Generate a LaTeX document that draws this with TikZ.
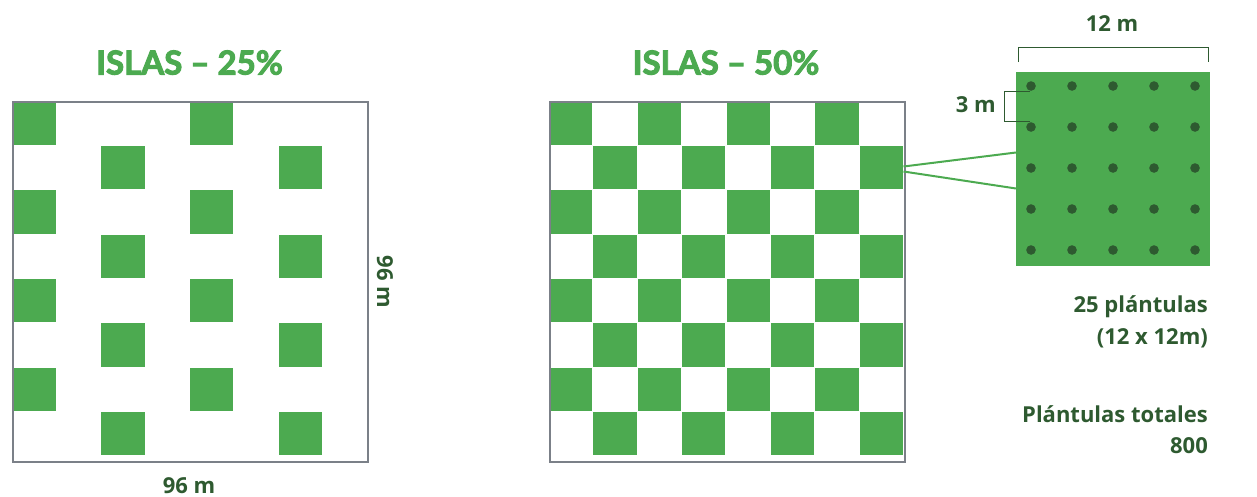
\documentclass[tikz,border=0pt]{standalone}
\usepackage{fontspec}
\setmainfont{Open Sans}
\newfontfamily\titlefont{Lato}[BoldFeatures={FakeBold=3}]
\definecolor{isla}{HTML}{4CAA50}
\definecolor{dkgreen}{HTML}{2E5A30}
\definecolor{border}{HTML}{7B8088}
\begin{document}
\begin{tikzpicture}[x=1pt,y=-1pt,
  gridframe/.style={draw=border,line width=2pt},
  titletext/.style={text=isla,font=\titlefont\bfseries\fontsize{33}{33}\selectfont,inner sep=0pt},
  labeltext/.style={text=dkgreen,font=\bfseries\fontsize{22}{26}\selectfont,inner sep=0pt},
  bracket/.style={draw=dkgreen,line width=1pt},
  zoomline/.style={draw=isla,line width=2pt},
  plant/.style={circle,fill=dkgreen,draw=none,minimum size=9.6pt,inner sep=0pt}]
\useasboundingbox (0,0) rectangle (1257,496);
\def\cs{44.375}
% ---- left grid (25%)
\foreach \r in {0,...,7}{
  \foreach \c in {0,...,7}{
    \pgfmathtruncatemacro\ev{mod(\r,2)}
    \pgfmathtruncatemacro\cm{mod(\c,4)}
    \pgfmathtruncatemacro\on{(\ev==0 && \cm==0) || (\ev==1 && \cm==2) ? 1 : 0}
    \ifnum\on=1
      \fill[isla] (12+\c*\cs+0.6,101+\r*\cs+0.6) rectangle ++(\cs-1.2,\cs-1.2);
    \fi
  }
}
\node[gridframe,minimum width=355pt,minimum height=360pt,inner sep=0pt,anchor=north west] (gridA) at (12,101) {};
% ---- right grid (50%)
\foreach \r in {0,...,7}{
  \foreach \c in {0,...,7}{
    \pgfmathtruncatemacro\on{mod(\r+\c,2)==0 ? 1 : 0}
    \ifnum\on=1
      \fill[isla] (548.5+\c*\cs+0.6,101+\r*\cs+0.6) rectangle ++(\cs-1.2,\cs-1.2);
    \fi
  }
}
\node[gridframe,minimum width=355pt,minimum height=360pt,inner sep=0pt,anchor=north west] (gridB) at (548.5,101) {};
% ---- titles
\node[titletext,anchor=base] (t1) at (189.5,74.5) {ISLAS – 25\%};
\node[titletext,anchor=base] (t2) at (726,74.5) {ISLAS – 50\%};
% ---- dimension labels
\node[labeltext,anchor=base] (w96) at (189,493) {96 m};
\node[labeltext,rotate=-90] (h96) at (385,282) {96 m};
% ---- detail square
\node[fill=isla,draw=none,minimum size=194pt,inner sep=0pt,anchor=north west] (detail) at (1016,72) {};
\foreach \i/\x in {1/1031,2/1072,3/1113,4/1154,5/1195}{
  \foreach \j/\y in {1/86,2/127,3/168,4/209,5/250}{
    \node[plant] (p\i\j) at (\x,\y) {};
  }
}
% zoom lines
\coordinate (zA) at (903.5,166.5);
\coordinate (zB) at (903.5,171.5);
\coordinate (dA) at (1016,152.5);
\coordinate (dB) at (1016,188.5);
\draw[zoomline] (zA) -- (dA);
\draw[zoomline] (zB) -- (dB);
% 12 m bracket
\coordinate (b1) at (1018,62);
\coordinate (b2) at (1018,47.3);
\coordinate (b3) at (1208,47.3);
\coordinate (b4) at (1208,62);
\draw[bracket] (b1) -- (b2) -- (b3) -- (b4);
\node[labeltext,anchor=base] (l12) at (1112,31) {12 m};
% 3 m bracket
\coordinate (c1) at (1030,91);
\coordinate (c2) at (1004,91);
\coordinate (c3) at (1004,121.3);
\coordinate (c4) at (1030,121.3);
\draw[bracket] (c1) -- (c2) -- (c3) -- (c4);
\node[labeltext,anchor=base east] (l3) at (996,112.5) {3 m};
% side texts
\node[labeltext,anchor=base east] (s1) at (1208,312.5) {25 plántulas};
\node[labeltext,anchor=base east] (s2) at (1208,344) {(12 x 12m)};
\node[labeltext,anchor=base east] (s3) at (1208,422.5) {Plántulas totales};
\node[labeltext,anchor=base east] (s4) at (1208,453.3) {800};
\end{tikzpicture}
\end{document}
